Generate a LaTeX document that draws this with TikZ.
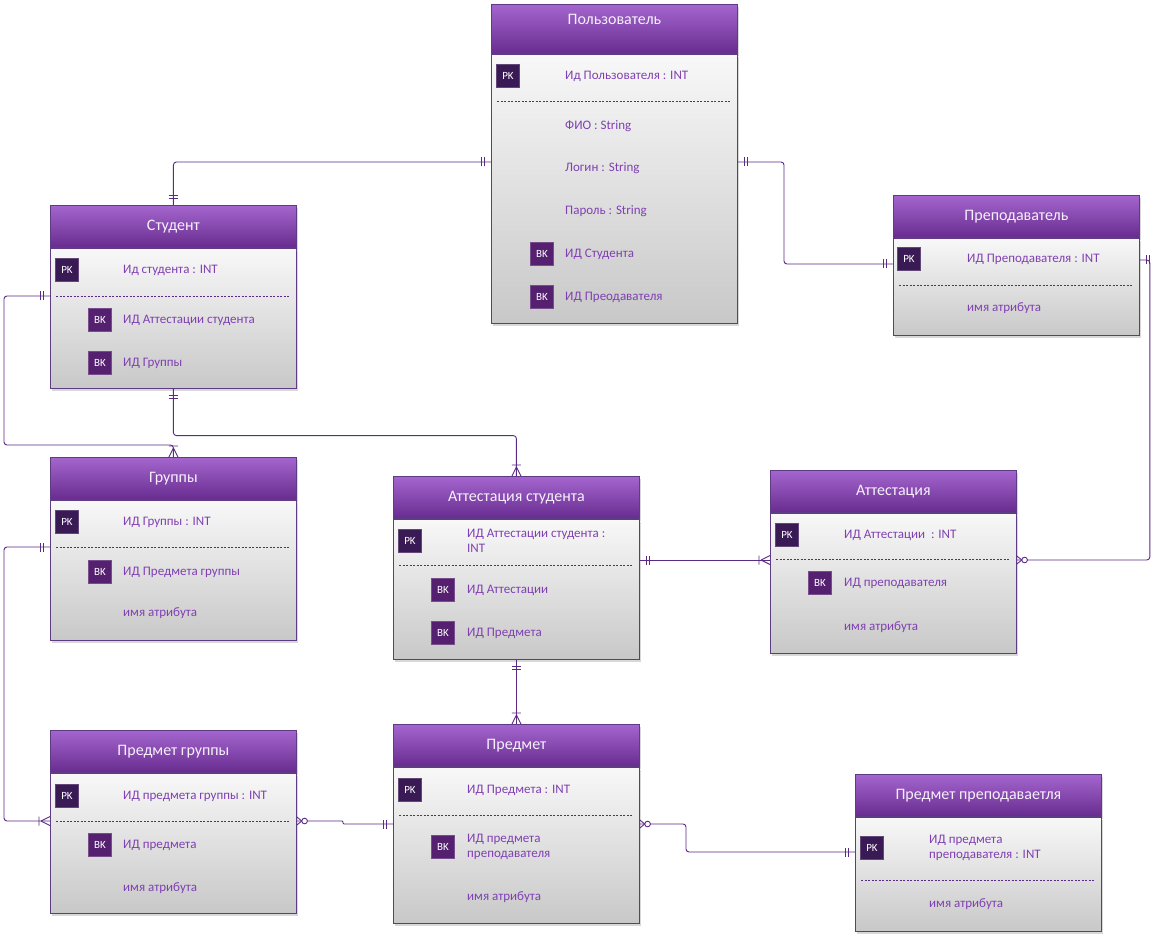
\documentclass[tikz,border=0pt]{standalone}
\usepackage{fontspec}
\setmainfont{Carlito}
\usetikzlibrary{shadows}

\definecolor{headtop}{HTML}{A466CE}
\definecolor{headbot}{HTML}{682C8F}
\definecolor{headtext}{HTML}{F6F0FA}
\definecolor{bodytop}{HTML}{F8F8F8}
\definecolor{bodybot}{HTML}{C8C8C8}
\definecolor{erline}{HTML}{5E3B85}
\definecolor{pkfill}{HTML}{3A1A55}
\definecolor{bkfill}{HTML}{55206F}
\definecolor{attrtext}{HTML}{8040B2}
\definecolor{connline}{HTML}{5A2A85}

% ER ends: exactly one, one or many, zero or many
\pgfdeclarearrow{
	name = ErOne,
	setup code = {
		\pgfarrowssettipend{0pt}
		\pgfarrowssetlineend{0pt}
		\pgfarrowssetbackend{-11pt}
	},
	drawing code = {
		\pgfpathmoveto{\pgfqpoint{-7pt}{-4.5pt}}
		\pgfpathlineto{\pgfqpoint{-7pt}{4.5pt}}
		\pgfpathmoveto{\pgfqpoint{-10pt}{-4.5pt}}
		\pgfpathlineto{\pgfqpoint{-10pt}{4.5pt}}
		\pgfusepathqstroke
	}
}
\pgfdeclarearrow{
	name = ErOneMany,
	setup code = {
		\pgfarrowssettipend{0pt}
		\pgfarrowssetlineend{0pt}
		\pgfarrowssetbackend{-12pt}
	},
	drawing code = {
		\pgfpathmoveto{\pgfqpoint{-9pt}{0pt}}
		\pgfpathlineto{\pgfqpoint{0pt}{4.5pt}}
		\pgfpathmoveto{\pgfqpoint{-9pt}{0pt}}
		\pgfpathlineto{\pgfqpoint{0pt}{-4.5pt}}
		\pgfpathmoveto{\pgfqpoint{-11pt}{-4.5pt}}
		\pgfpathlineto{\pgfqpoint{-11pt}{4.5pt}}
		\pgfusepathqstroke
	}
}
\pgfdeclarearrow{
	name = ErZeroMany,
	setup code = {
		\pgfarrowssettipend{0pt}
		\pgfarrowssetlineend{0pt}
		\pgfarrowssetbackend{-11pt}
	},
	drawing code = {
		\pgfpathmoveto{\pgfqpoint{-5pt}{0pt}}
		\pgfpathlineto{\pgfqpoint{0pt}{4pt}}
		\pgfpathmoveto{\pgfqpoint{-5pt}{0pt}}
		\pgfpathlineto{\pgfqpoint{0pt}{-4pt}}
		\pgfusepathqstroke
		\pgfsetfillcolor{white}
		\pgfpathcircle{\pgfqpoint{-7.8pt}{0pt}}{2.8pt}
		\pgfusepathqfillstroke
	}
}

\begin{document}
\begin{tikzpicture}[x=1pt, y=-1pt,
	ershadow/.style={drop shadow={shadow xshift=2pt, shadow yshift=-3pt, opacity=0.3}},
	enthead/.style={draw=erline, line width=0.8pt, top color=headtop, bottom color=headbot,
		minimum width=246pt, minimum height=42pt, inner sep=0pt, anchor=north west,
		text=headtext, font=\fontsize{16}{19}\selectfont, ershadow},
	entbody/.style={draw=erline, line width=0.8pt, top color=bodytop, bottom color=bodybot,
		minimum width=246pt, inner sep=0pt, anchor=north west, ershadow},
	pk/.style={fill=pkfill, draw=pkfill!80!white, minimum size=23pt, inner sep=0pt,
		text=white, font=\fontsize{11}{13}\selectfont},
	bk/.style={pk, fill=bkfill, draw=bkfill!80!white},
	attr/.style={anchor=west, inner sep=0pt, text=attrtext, align=left, font=\fontsize{13}{15.5}\selectfont},
	divider/.style={draw=connline, line width=0.6pt, dash pattern=on 2pt off 1.5pt},
	conn/.style={draw=connline, line width=0.9pt, rounded corners=3pt}]
	\fill[white] (0,0) rectangle (1152,941);
	\useasboundingbox (0,0) rectangle (1152,941);

	% Пользователь
	\node[enthead, minimum height=49pt, text depth=20pt] (polz-h) at (491,4) {Пользователь};
	\node[entbody, minimum height=269pt] (polz-b) at (polz-h.south west) {};
	\node[pk] (polz-pk) at (508,76) {PK};
	\node[attr] (polz-a1) at (565,76) {Ид Пользователя : INT};
	\draw[divider] (497,101) -- (731,101);
	\node[attr] (polz-a2) at (565,126) {ФИО : String};
	\node[attr] (polz-a3) at (565,168) {Логин : String};
	\node[attr] (polz-a4) at (565,211) {Пароль : String};
	\node[bk] (polz-bk1) at (542,254) {BK};
	\node[attr] (polz-a5) at (565,254) {ИД Студента};
	\node[bk] (polz-bk2) at (542,297) {BK};
	\node[attr] (polz-a6) at (565,297) {ИД Преодавателя};

	% Студент
	\node[enthead] (stud-h) at (50,205) {Студент};
	\node[entbody, minimum height=140pt] (stud-b) at (stud-h.south west) {};
	\node[pk] (stud-pk) at (67,270) {PK};
	\node[attr] (stud-a1) at (123,270) {Ид студента : INT};
	\draw[divider] (56,296) -- (289,296);
	\node[bk] (stud-bk1) at (100,320) {BK};
	\node[attr] (stud-a2) at (123,320) {ИД Аттестации студента};
	\node[bk] (stud-bk2) at (100,363) {BK};
	\node[attr] (stud-a3) at (123,363) {ИД Группы};

	% Группы
	\node[enthead] (grup-h) at (50,457) {Группы};
	\node[entbody, minimum height=140pt] (grup-b) at (grup-h.south west) {};
	\node[pk] (grup-pk) at (67,522) {PK};
	\node[attr] (grup-a1) at (123,522) {ИД Группы : INT};
	\draw[divider] (56,547) -- (289,547);
	\node[bk] (grup-bk1) at (100,572) {BK};
	\node[attr] (grup-a2) at (123,572) {ИД Предмета группы};
	\node[attr] (grup-a3) at (123,613) {имя атрибута};

	% Предмет группы
	\node[enthead] (pgrp-h) at (50,730) {Предмет группы};
	\node[entbody, minimum height=140pt] (pgrp-b) at (pgrp-h.south west) {};
	\node[pk] (pgrp-pk) at (67,796) {PK};
	\node[attr] (pgrp-a1) at (123,796) {ИД предмета группы : INT};
	\draw[divider] (56,821) -- (289,821);
	\node[bk] (pgrp-bk1) at (100,845) {BK};
	\node[attr] (pgrp-a2) at (123,845) {ИД предмета};
	\node[attr] (pgrp-a3) at (123,888) {имя атрибута};

	% Аттестация студента
	\node[enthead] (atst-h) at (393,476) {Аттестация студента};
	\node[entbody, minimum height=140pt] (atst-b) at (atst-h.south west) {};
	\node[pk] (atst-pk) at (410,541) {PK};
	\node[attr] (atst-a1) at (467,541) {ИД Аттестации студента :\\INT};
	\draw[divider] (399,565) -- (632,565);
	\node[bk] (atst-bk1) at (443,590) {BK};
	\node[attr] (atst-a2) at (467,590) {ИД Аттестации};
	\node[bk] (atst-bk2) at (443,633) {BK};
	\node[attr] (atst-a3) at (467,633) {ИД Предмета};

	% Предмет
	\node[enthead] (pred-h) at (393,724) {Предмет};
	\node[entbody, minimum height=156pt] (pred-b) at (pred-h.south west) {};
	\node[pk] (pred-pk) at (410,790) {PK};
	\node[attr] (pred-a1) at (467,790) {ИД Предмета : INT};
	\draw[divider] (399,815) -- (632,815);
	\node[bk] (pred-bk1) at (443,847) {BK};
	\node[attr] (pred-a2) at (467,847) {ИД предмета\\преподавателя};
	\node[attr] (pred-a3) at (467,897) {имя атрибута};

	% Аттестация
	\node[enthead] (atts-h) at (770,470) {Аттестация};
	\node[entbody, minimum height=140pt] (atts-b) at (atts-h.south west) {};
	\node[pk] (atts-pk) at (787,535) {PK};
	\node[attr] (atts-a1) at (844,535) {ИД Аттестации~ : INT};
	\draw[divider] (776,559) -- (1010,559);
	\node[bk] (atts-bk1) at (820,583) {BK};
	\node[attr] (atts-a2) at (844,583) {ИД преподавателя};
	\node[attr] (atts-a3) at (844,627) {имя атрибута};

	% Преподаватель
	\node[enthead] (prep-h) at (893,195) {Преподаватель};
	\node[entbody, minimum height=97pt] (prep-b) at (prep-h.south west) {};
	\node[pk] (prep-pk) at (909,259) {PK};
	\node[attr] (prep-a1) at (967,259) {ИД Преподавателя : INT};
	\draw[divider] (899,285) -- (1133,285);
	\node[attr] (prep-a2) at (967,308) {имя атрибута};

	% Предмет преподаваетля
	\node[enthead] (ppre-h) at (855,774) {Предмет преподаваетля};
	\node[entbody, minimum height=114pt] (ppre-b) at (ppre-h.south west) {};
	\node[pk] (ppre-pk) at (872,848) {PK};
	\node[attr] (ppre-a1) at (929,848) {ИД предмета\\преподавателя : INT};
	\draw[divider] (861,880) -- (1095,880);
	\node[attr] (ppre-a2) at (929,904) {имя атрибута};

	% relations
	\draw[conn, {ErOne}-{ErOne}] (polz-b.west |- 0,162) -| (stud-h.north);
	\draw[conn, {ErOne}-{ErOne}] (polz-b.east |- 0,162) -| (784,264) -- (prep-b.west |- 0,264);
	\draw[conn, {ErOne}-{ErOneMany}] (stud-b.west |- 0,296) -| (4,445) -| (grup-h.north);
	\draw[conn, {ErOne}-{ErOneMany}] (stud-b.south) -- ++(0,47) -| (atst-h.north);
	\draw[conn, {ErOne}-{ErOneMany}] (atst-b.east |- 0,560) -- (atts-b.west |- 0,560);
	\draw[conn, {ErOne}-{ErZeroMany}] (prep-b.east |- 0,260) -- ++(10,0) |- (atts-b.east |- 0,560);
	\draw[conn, {ErOne}-{ErOneMany}] (atst-b.south) -- (pred-h.north);
	\draw[conn, {ErOne}-{ErOneMany}] (grup-b.west |- 0,547) -| (4,821) -- (pgrp-b.west |- 0,821);
	\draw[conn, rounded corners=1pt, {ErZeroMany}-{ErOne}] (pgrp-b.east |- 0,821) -| (343,824) -- (pred-b.west |- 0,824);
	\draw[conn, {ErZeroMany}-{ErOne}] (pred-b.east |- 0,824) -| (686,852) -- (ppre-b.west |- 0,852);
\end{tikzpicture}
\end{document}
